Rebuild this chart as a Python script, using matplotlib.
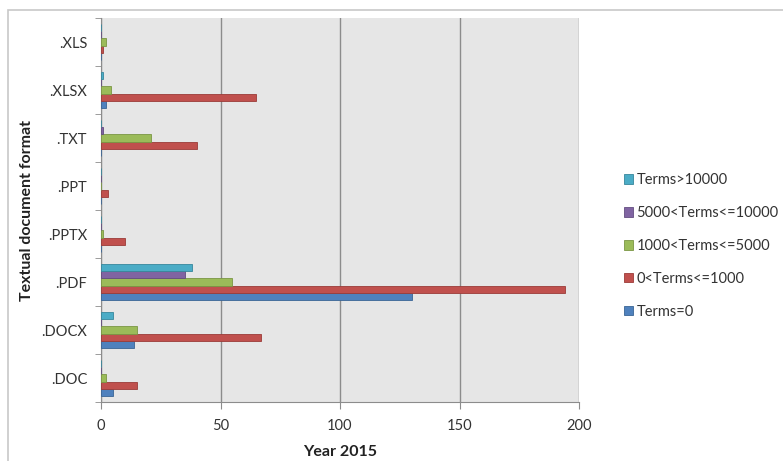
import matplotlib
matplotlib.use("Agg")
import matplotlib.pyplot as plt
from matplotlib.patches import Rectangle, Patch
import numpy as np

plt.rcParams['font.family'] = ['Lato', 'DejaVu Sans']

formats = ['.DOC', '.DOCX', '.PDF', '.PPTX', '.PPT', '.TXT', '.XLSX', '.XLS']

series_names = ['Terms=0', '0<Terms<=1000', '1000<Terms<=5000',
                '5000<Terms<=10000', 'Terms>10000']
terms_zero      = [5, 14, 130, 0, 0, 0, 2, 0]
terms_le_1000   = [15, 67, 194, 10, 3, 40, 65, 1]
terms_le_5000   = [2, 15, 55, 1, 0, 21, 4, 2]
terms_le_10000  = [0, 0, 35, 0, 0, 1, 0, 0]
terms_gt_10000  = [0, 5, 38, 0, 0, 0, 1, 0]
series_values = [terms_zero, terms_le_1000, terms_le_5000,
                 terms_le_10000, terms_gt_10000]

colors = ['#4F81BD', '#C0504D', '#9BBB59', '#8064A2', '#4BACC6']
edges = ['#3A6595', '#9B3B38', '#7A9644', '#634D80', '#37879C']

fig = plt.figure(figsize=(7.83, 4.61), dpi=100)
fig.patches.append(Rectangle((8 / 783, -0.1), 1.2, 1 - 10 / 461 + 0.1,
                             transform=fig.transFigure, fill=False,
                             edgecolor='#C8C8C8', linewidth=1.2))

ax = fig.add_axes([101 / 783, 1 - 402 / 461, (579 - 101) / 783, (402 - 18) / 461])
ax.set_facecolor('#E6E6E6')

n = len(series_names)
bar_h = 1 / 6.5
y = np.arange(len(formats))
for i, (name, vals) in enumerate(zip(series_names, series_values)):
    offs = (i - (n - 1) / 2) * bar_h
    ax.barh(y + offs, vals, height=bar_h, color=colors[i], edgecolor=edges[i],
            linewidth=0.6, label=name, zorder=3)

ax.set_xlim(0, 200)
ax.set_ylim(-0.5, len(formats) - 0.5)
ax.set_xticks([0, 50, 100, 150, 200])
ax.xaxis.grid(True, color='#8C8C8C', linewidth=1.0, zorder=1)
ax.set_yticks(y)
ax.set_yticklabels(formats)
ax.set_yticks(np.arange(-0.5, len(formats), 1), minor=True)
ax.tick_params(axis='y', which='major', length=0, pad=10, labelsize=10.5, colors='#333333')
ax.tick_params(axis='y', which='minor', length=4, color='#8C8C8C')
ax.tick_params(axis='x', length=5, color='#8C8C8C', pad=7, labelsize=10.5, labelcolor='#333333')
for s in ['top', 'right']:
    ax.spines[s].set_visible(False)
for s in ['left', 'bottom']:
    ax.spines[s].set_color('#8C8C8C')

ax.set_xlabel('Year 2015', fontsize=11.5, fontweight='bold', labelpad=9, color='#222222')
ax.set_ylabel('Textual document format', fontsize=11.5, fontweight='bold', labelpad=5,
              color='#222222')

handles = [Patch(facecolor=colors[i], edgecolor=edges[i], linewidth=0.6)
           for i in range(n)][::-1]
fig.legend(handles, series_names[::-1], loc='upper left',
           bbox_to_anchor=(611 / 783, 1 - 160 / 461), frameon=False,
           fontsize=10.5, handlelength=0.6, handleheight=0.6, handletextpad=0.25,
           labelspacing=1.3, labelcolor='#333333')

fig.savefig('out.png', dpi=100)
